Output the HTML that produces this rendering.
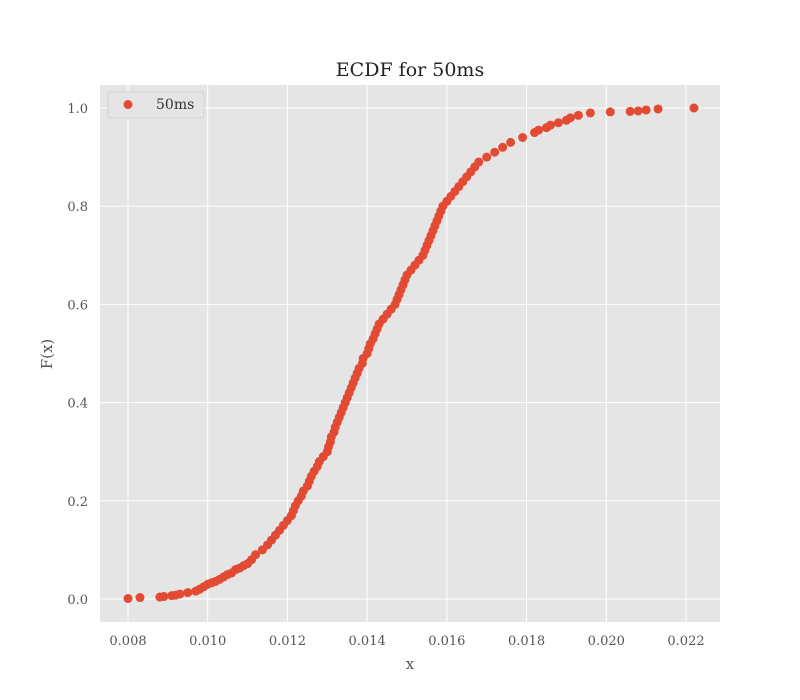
<!DOCTYPE html>
<html><head><meta charset="utf-8"><style>
body{margin:0;background:#fff;}
svg{display:block;font-family:"DejaVu Serif","Liberation Serif",serif;}
</style></head><body>
<svg id="chart" width="800" height="700">
<rect x="100" y="85" width="620" height="537" fill="#E5E5E5"/>
<g id="grid"></g><g id="ticks"></g><g id="points"></g>
<text x="410" y="76" text-anchor="middle" font-size="19" fill="#222">ECDF for 50ms</text>
<text x="410" y="669" text-anchor="middle" font-size="15" fill="#555">x</text>
<text x="52" y="354" text-anchor="middle" font-size="15" fill="#555" transform="rotate(-90 52 354)">F(x)</text>
<g>
<rect x="108" y="92" width="96" height="26" rx="3" fill="#E5E5E5" stroke="#ccc" stroke-width="0.8"/>
<circle cx="128" cy="104.5" r="4.5" fill="#E24A33"/>
<text x="156" y="109" font-size="14" fill="#333">50ms</text>
</g>
</svg>
<script>
const xTicks=[0.008,0.010,0.012,0.014,0.016,0.018,0.020,0.022];
const yTicks=[0.0,0.2,0.4,0.6,0.8,1.0];
const xValues=[
0.0080,0.0083,0.0088,0.0089,0.0091,0.0092,0.0093,0.0095,0.0097,0.0098,
0.0099,0.0100,0.0101,0.0102,0.0103,0.0104,0.0105,0.0106,0.0107,0.0108,
0.0109,0.0110,0.0111,0.0112,0.01137,
0.0115,0.0116,0.0117,0.0118,0.0119,0.0120,0.0121,0.01215,0.0122,0.01227,
0.01235,0.0124,0.0125,0.01255,0.0126,0.01267,0.01275,0.0128,0.0129,0.0130,
0.01303,0.01308,0.0131,0.01317,0.0132,0.01325,0.0133,0.01335,0.0134,0.01345,
0.0135,0.01355,0.0136,0.01365,0.0137,0.01375,0.0138,0.01388,0.0139,
0.0140,0.01404,0.01408,0.01415,0.0142,0.01425,0.0143,0.0144,0.0145,0.0146,0.0147,
0.01475,0.0148,0.01485,0.0149,0.01495,0.0150,0.0151,0.0152,0.0153,0.0154,
0.01545,0.0155,0.01555,0.0156,0.01565,0.0157,0.01575,0.0158,0.01585,0.0159,
0.0160,0.0161,0.0162,0.0163,0.0164,0.0165,0.0166,0.0167,0.0168,0.0170,
0.0172,0.0174,0.0176,0.0179,0.0182,0.0183,0.0185,0.0186,0.0188,0.0190,0.0191,0.0193,
0.0196,0.0201,0.0206,0.0208,0.0210,0.0213,0.0222];
const fValues=[
0.001,0.003,0.004,0.005,0.007,0.008,0.010,0.013,0.016,0.020,
0.025,0.030,0.033,0.036,0.040,0.045,0.050,0.053,0.060,0.063,
0.068,0.072,0.080,0.090,0.100,
0.110,0.120,0.130,0.140,0.150,0.160,0.170,0.180,0.190,0.200,
0.210,0.220,0.230,0.240,0.250,0.260,0.270,0.280,0.290,0.300,
0.310,0.320,0.330,0.340,0.350,0.360,0.370,0.380,0.390,0.400,
0.410,0.420,0.430,0.440,0.450,0.460,0.470,0.480,0.490,
0.500,0.510,0.520,0.530,0.540,0.550,0.560,0.570,0.580,0.590,0.600,
0.610,0.620,0.630,0.640,0.650,0.660,0.670,0.680,0.690,0.700,
0.710,0.720,0.730,0.740,0.750,0.760,0.770,0.780,0.790,0.800,
0.810,0.820,0.830,0.840,0.850,0.860,0.870,0.880,0.890,0.900,
0.910,0.920,0.930,0.940,0.950,0.955,0.960,0.965,0.970,0.975,0.980,0.985,
0.990,0.992,0.993,0.994,0.996,0.998,1.000];
const NS="http://www.w3.org/2000/svg";
function sx(v){return 128+(v-0.008)/0.014*558;}
function sy(v){return 599-v*491;}
const grid=document.getElementById('grid'),ticks=document.getElementById('ticks'),pts=document.getElementById('points');
xTicks.forEach(t=>{
 const l=document.createElementNS(NS,'line');
 l.setAttribute('x1',sx(t));l.setAttribute('x2',sx(t));l.setAttribute('y1',85);l.setAttribute('y2',622);
 l.setAttribute('stroke','#fff');l.setAttribute('stroke-width','1');
 
 
 grid.appendChild(l);
 const tx=document.createElementNS(NS,'text');
 tx.setAttribute('x',sx(t));tx.setAttribute('y',645);tx.setAttribute('text-anchor','middle');
 tx.setAttribute('font-size','13');tx.setAttribute('fill','#555');tx.textContent=t.toFixed(3);
 
 
 ticks.appendChild(tx);
});
yTicks.forEach(t=>{
 const l=document.createElementNS(NS,'line');
 l.setAttribute('x1',100);l.setAttribute('x2',720);l.setAttribute('y1',sy(t));l.setAttribute('y2',sy(t));
 l.setAttribute('stroke','#fff');l.setAttribute('stroke-width','1');
 
 
 grid.appendChild(l);
 const tx=document.createElementNS(NS,'text');
 tx.setAttribute('x',88);tx.setAttribute('y',sy(t)+5);tx.setAttribute('text-anchor','end');
 tx.setAttribute('font-size','13');tx.setAttribute('fill','#555');tx.textContent=t.toFixed(1);
 
 
 ticks.appendChild(tx);
});
const n=Math.min(xValues.length,fValues.length);
for(let i=0;i<n;i++){
 const c=document.createElementNS(NS,'circle');
 c.setAttribute('cx',sx(xValues[i]));c.setAttribute('cy',sy(fValues[i]));c.setAttribute('r',4.5);
 c.setAttribute('fill','#E24A33');
 
 
 pts.appendChild(c);
}
</script>
</body></html>
